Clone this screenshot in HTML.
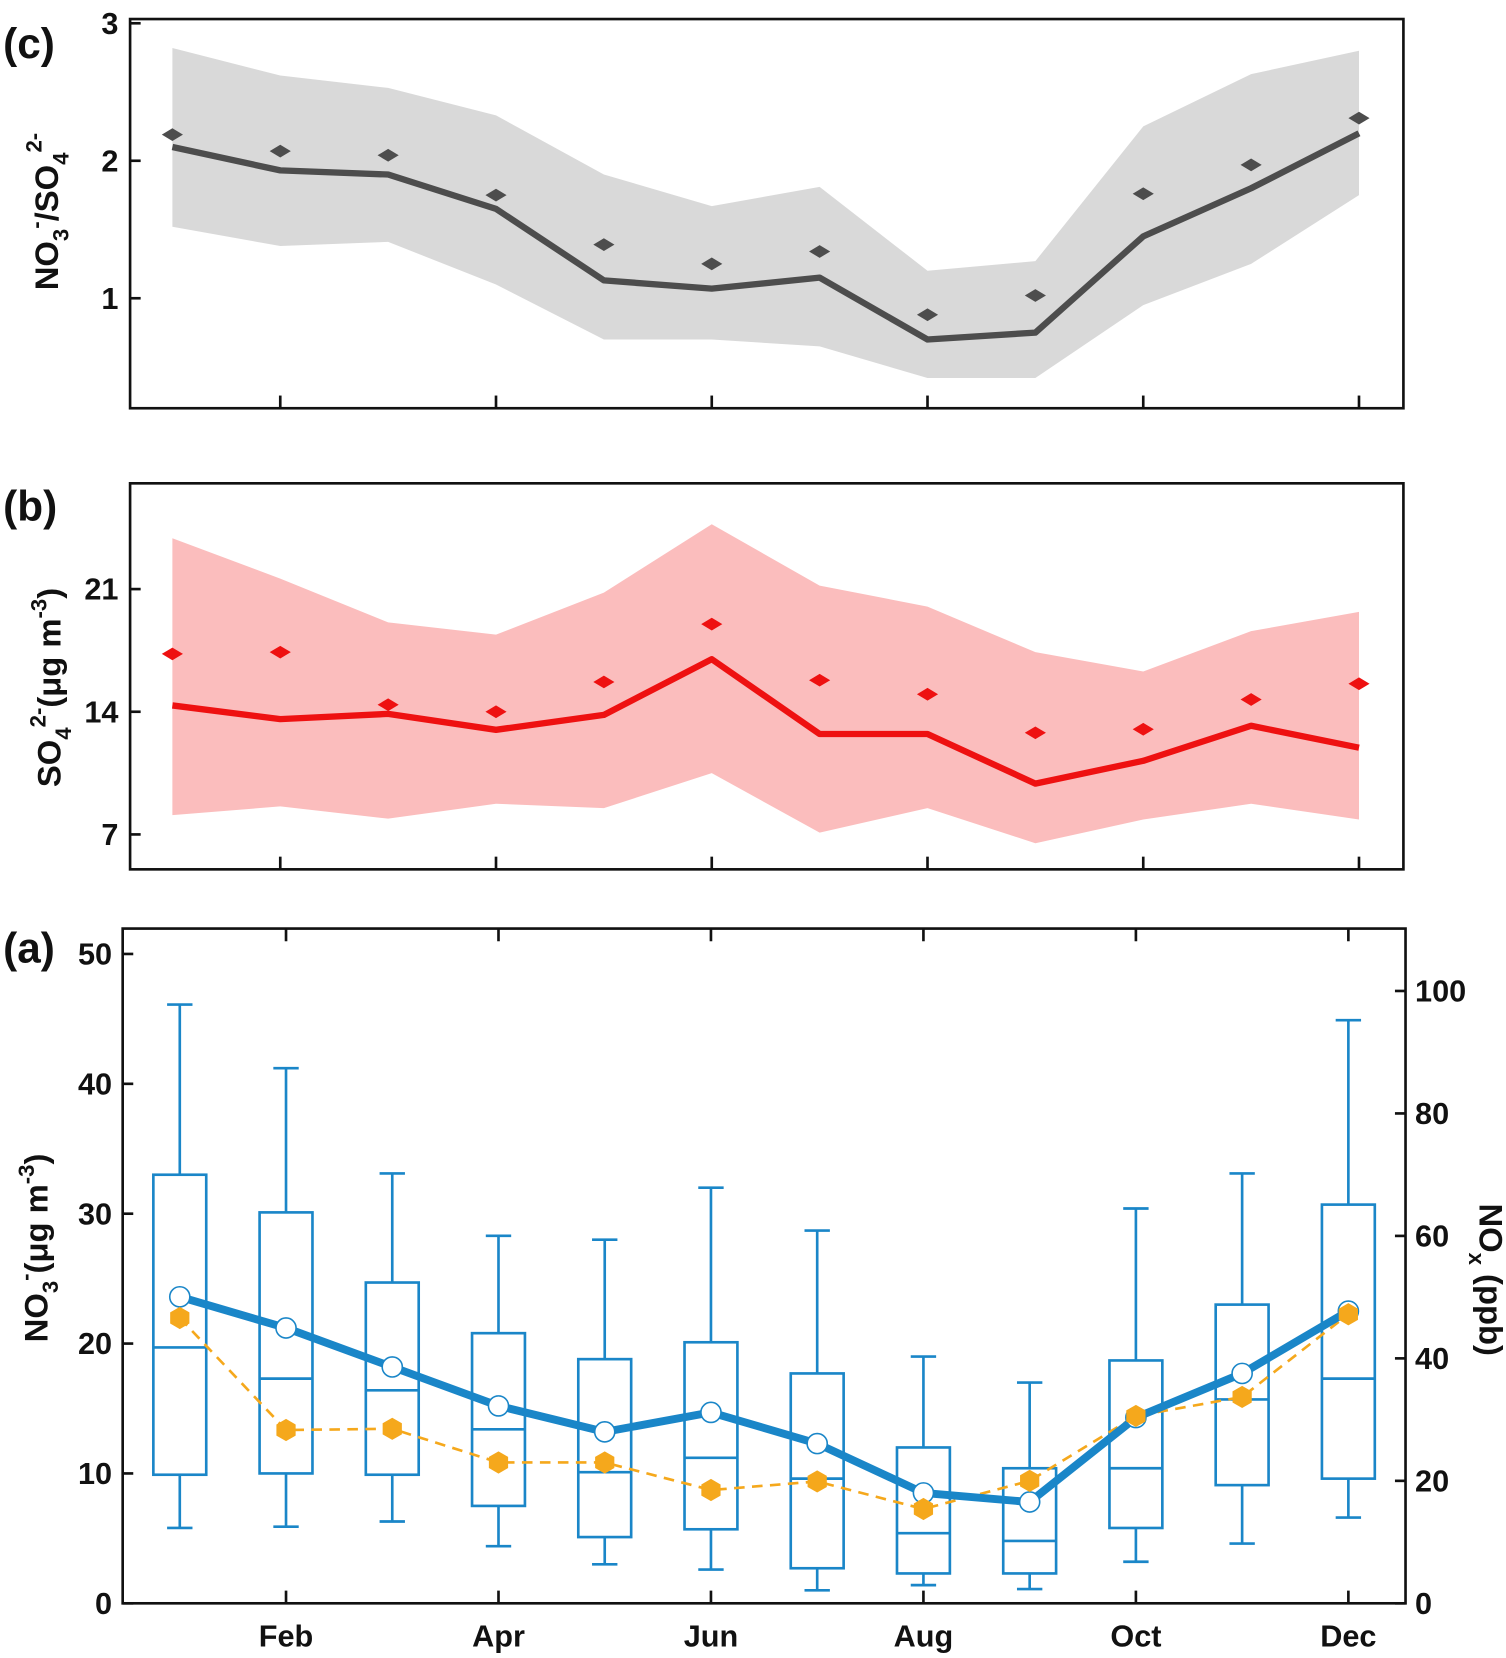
<!DOCTYPE html>
<html><head><meta charset="utf-8"><style>
html,body{margin:0;padding:0;background:#fff}
svg{display:block}
text{font-family:"Liberation Sans",Arial,sans-serif;font-weight:bold;fill:#111}
</style></head><body>
<svg id="fig" xmlns="http://www.w3.org/2000/svg" width="1506" height="1658" viewBox="0 0 1424 1567.7"></svg>
<script>
const months = ['Jan','Feb','Mar','Apr','May','Jun','Jul','Aug','Sep','Oct','Nov','Dec'];
// panel c: NO3-/SO4 2- ratio
const ratioLine = [2.1,1.93,1.9,1.65,1.13,1.07,1.15,0.7,0.75,1.45,1.8,2.2];
const ratioMean = [2.19,2.07,2.04,1.75,1.39,1.25,1.34,0.88,1.02,1.76,1.97,2.31];
const ratioUpper = [2.82,2.62,2.53,2.33,1.9,1.67,1.81,1.2,1.27,2.25,2.63,2.8];
const ratioLower = [1.52,1.38,1.41,1.1,0.7,0.7,0.65,0.42,0.42,0.95,1.25,1.75];
const ratioTicks = [1,2,3];
// panel b: SO4 2-
const so4Line = [14.36,13.58,13.88,12.97,13.82,17.0,12.73,12.73,9.9,11.2,13.2,11.95];
const so4Mean = [17.3,17.4,14.4,14.0,15.7,19.0,15.8,15.0,12.8,13.0,14.7,15.6];
const so4Upper = [23.9,21.6,19.1,18.4,20.8,24.7,21.2,20.0,17.4,16.3,18.6,19.7];
const so4Lower = [8.1,8.6,7.9,8.75,8.5,10.5,7.1,8.5,6.5,7.85,8.75,7.85];
const so4Ticks = [7,14,21];
// panel a: NO3- boxplots
const whiskHi = [46.1,41.2,33.1,28.3,28.0,32.0,28.7,19.0,17.0,30.4,33.1,44.9];
const q3 = [33,30.1,24.7,20.8,18.8,20.1,17.7,12.0,10.4,18.7,23.0,30.7];
const med = [19.7,17.3,16.4,13.4,10.1,11.2,9.6,5.4,4.8,10.4,15.7,17.3];
const q1 = [9.9,10.0,9.9,7.5,5.1,5.7,2.7,2.3,2.3,5.8,9.1,9.6];
const whiskLo = [5.8,5.9,6.3,4.4,3.0,2.6,1.0,1.4,1.1,3.2,4.6,6.6];
const no3Mean = [23.6,21.2,18.2,15.2,13.2,14.7,12.3,8.5,7.8,14.3,17.7,22.5];
const noxMean = [46.6,28.3,28.5,23.0,23.0,18.5,19.9,15.4,20.0,30.6,33.7,47.2];
const no3Ticks = [0,10,20,30,40,50];
const noxTicks = [0,20,40,60,80,100];

const NS='http://www.w3.org/2000/svg';
const svg=document.getElementById('fig');
function mk(tag,attrs,parent){const e=document.createElementNS(NS,tag);for(const k in attrs)e.setAttribute(k,attrs[k]);(parent||svg).appendChild(e);return e;}

const xC = m => 163 + 102*m;
const yC = v => 22 + (3-v)*130;
const yB = v => 557 + (21-v)*16.57;
const xA = m => 170 + 100.45*m;
const yA = v => 1516 - v*12.28;
const yR = v => 1516 - v*5.79;

function band(g,xf,yf,up,lo,fill,name){
  let d='M'+up.map((v,i)=>xf(i)+','+yf(v)).join(' L');
  d+=' L'+lo.map((v,i)=>[xf(i),yf(v)]).reverse().map(p=>p.join(',')).join(' L')+' Z';
  const p=mk('path',{d:d,fill:fill},g);
  
  
}
function line(g,xf,yf,vals,attrs,name){
  const p=mk('polyline',Object.assign({points:vals.map((v,i)=>xf(i)+','+yf(v)).join(' '),fill:'none','stroke-linejoin':'round'},attrs),g);
  
  
}
function diamonds(g,xf,yf,vals,fill,name){
  vals.forEach((v,i)=>{const x=xf(i),y=yf(v);
    const p=mk('path',{d:`M${x-10},${y} L${x},${y-6} L${x+10},${y} L${x},${y+6} Z`,fill:fill},g);
    
    });
}
function frame(g,x0,y0,x1,y1,name){
  const r=mk('rect',{x:x0,y:y0,width:x1-x0,height:y1-y0,fill:'none',stroke:'#111','stroke-width':2.5},g);
  
  
}
function txt(g,x,y,s,size,anchor,name,extra){
  const t=mk('text',Object.assign({x:x,y:y,'font-size':size,'text-anchor':anchor||'start'},extra||{}),g);
  t.textContent=s;
  
  
  return t;
}
const TS=29, AS=31, SS=21, PS=40;

// ---------- panel c ----------
const gc=mk('g',{});


band(gc,xC,yC,ratioUpper,ratioLower,'#d9d9d9','ratio-range-band');
line(gc,xC,yC,ratioLine,{stroke:'#4d4d4d','stroke-width':6},'ratio-median-line');
diamonds(gc,xC,yC,ratioMean,'#4d4d4d','ratio-mean-marker');
frame(gc,123,18,1327,386,'panel-c-frame');
ratioTicks.forEach(v=>{mk('line',{x1:123,x2:133,y1:yC(v),y2:yC(v),stroke:'#111','stroke-width':2.5},gc);txt(gc,112,yC(v)+10,String(v),TS,'end','ratio-y-tick-label');});
for(let m=1;m<12;m+=2){mk('line',{x1:xC(m),x2:xC(m),y1:386,y2:374,stroke:'#111','stroke-width':2.5},gc);}
txt(gc,3,55,'(c)',PS,'start','panel-c-label');
const tc=txt(gc,0,0,'',AS,'middle','ratio-y-axis-title',{transform:'translate(55,200) rotate(-90)'});
tc.innerHTML='NO<tspan dy="10" font-size="'+SS+'">3</tspan><tspan dy="-24" font-size="'+SS+'">-</tspan><tspan dy="14">/SO</tspan><tspan dy="10" font-size="'+SS+'">4</tspan><tspan dy="-26" font-size="'+SS+'">2-</tspan>';

// ---------- panel b ----------
const gb=mk('g',{});


band(gb,xC,yB,so4Upper,so4Lower,'#fbbdbd','so4-range-band');
line(gb,xC,yB,so4Line,{stroke:'#ee1111','stroke-width':6},'so4-median-line');
diamonds(gb,xC,yB,so4Mean,'#ee1111','so4-mean-marker');
frame(gb,123,457,1327,822,'panel-b-frame');
so4Ticks.forEach(v=>{mk('line',{x1:123,x2:133,y1:yB(v),y2:yB(v),stroke:'#111','stroke-width':2.5},gb);txt(gb,112,yB(v)+10,String(v),TS,'end','so4-y-tick-label');});
for(let m=1;m<12;m+=2){mk('line',{x1:xC(m),x2:xC(m),y1:822,y2:810,stroke:'#111','stroke-width':2.5},gb);}
txt(gb,3,492,'(b)',PS,'start','panel-b-label');
const tb=txt(gb,0,0,'',AS,'middle','so4-y-axis-title',{transform:'translate(57,650) rotate(-90)'});
tb.innerHTML='SO<tspan dy="10" font-size="'+SS+'">4</tspan><tspan dy="-24" font-size="'+SS+'">2-</tspan><tspan dy="14">(μg m</tspan><tspan dy="-13" font-size="'+SS+'">-3</tspan><tspan dy="13">)</tspan>';

// ---------- panel a ----------
const ga=mk('g',{});


const blue='#1a86c8', orange='#f5a81c';
months.forEach((mn,i)=>{
  const x=xA(i), hw=25, cw=12;
  const g=mk('g',{},ga);
  
  
  const st={stroke:blue,'stroke-width':2.5,fill:'none'};
  mk('line',Object.assign({x1:x,x2:x,y1:yA(whiskHi[i]),y2:yA(q3[i])},st),g);
  mk('line',Object.assign({x1:x,x2:x,y1:yA(q1[i]),y2:yA(whiskLo[i])},st),g);
  mk('line',Object.assign({x1:x-cw,x2:x+cw,y1:yA(whiskHi[i]),y2:yA(whiskHi[i])},st),g);
  mk('line',Object.assign({x1:x-cw,x2:x+cw,y1:yA(whiskLo[i]),y2:yA(whiskLo[i])},st),g);
  mk('rect',Object.assign({x:x-hw,y:yA(q3[i]),width:2*hw,height:yA(q1[i])-yA(q3[i])},st),g);
  mk('line',Object.assign({x1:x-hw,x2:x+hw,y1:yA(med[i]),y2:yA(med[i])},st),g);
});
line(ga,xA,yR,noxMean,{stroke:orange,'stroke-width':2.5,'stroke-dasharray':'10,7'},'nox-mean-line');
line(ga,xA,yA,no3Mean,{stroke:blue,'stroke-width':7.5},'no3-mean-line');
no3Mean.forEach((v,i)=>{const c=mk('circle',{cx:xA(i),cy:yA(v),r:9.5,fill:'#fff',stroke:blue,'stroke-width':1.5},ga);
  
  });
noxMean.forEach((v,i)=>{const x=xA(i),y=yR(v),r=10.5;
  const pts=[0,1,2,3,4,5].map(k=>{const a=Math.PI/3*k+Math.PI/6;return (x+r*Math.cos(a))+','+(y+r*Math.sin(a));}).join(' ');
  const h=mk('polygon',{points:pts,fill:orange},ga);
  
  });
frame(ga,116,878,1329,1516,'panel-a-frame');
no3Ticks.forEach(v=>{mk('line',{x1:116,x2:126,y1:yA(v),y2:yA(v),stroke:'#111','stroke-width':2.5},ga);txt(ga,106,yA(v)+10,String(v),TS,'end','no3-y-tick-label');});
noxTicks.forEach(v=>{mk('line',{x1:1329,x2:1319,y1:yR(v),y2:yR(v),stroke:'#111','stroke-width':2.5},ga);txt(ga,1338,yR(v)+10,String(v),TS,'start','nox-y-tick-label');});
for(let m=1;m<12;m+=2){
  mk('line',{x1:xA(m),x2:xA(m),y1:1516,y2:1504,stroke:'#111','stroke-width':2.5},ga);
  mk('line',{x1:xA(m),x2:xA(m),y1:878,y2:890,stroke:'#111','stroke-width':2.5},ga);
  txt(ga,xA(m),1557,months[m],TS,'middle','x-tick-label');
}
txt(ga,3,910,'(a)',PS,'start','panel-a-label');
const ta=txt(ga,0,0,'',AS,'middle','no3-y-axis-title',{transform:'translate(45,1180) rotate(-90)'});
ta.innerHTML='NO<tspan dy="10" font-size="'+SS+'">3</tspan><tspan dy="-24" font-size="'+SS+'">-</tspan><tspan dy="14">(μg m</tspan><tspan dy="-13" font-size="'+SS+'">-3</tspan><tspan dy="13">)</tspan>';
const tr=txt(ga,0,0,'',AS,'middle','nox-y-axis-title',{transform:'translate(1399,1210) rotate(90)'});
tr.innerHTML='NO<tspan dy="10" font-size="'+SS+'">x</tspan><tspan dy="-10"> (ppb)</tspan>';
</script>
</body></html>
